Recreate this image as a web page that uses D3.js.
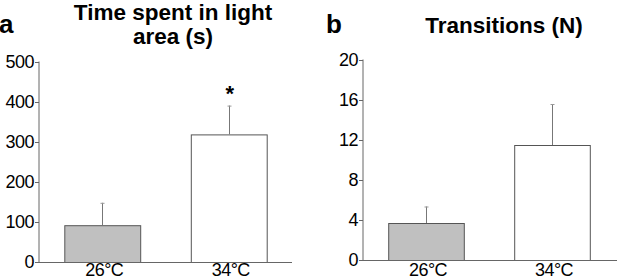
<!DOCTYPE html>
<html lang="en">
<head>
<meta charset="UTF-8">
<script src="https://cdn.jsdelivr.net/npm/d3@7"></script>
<style>
    body{margin:0;background:#fff;}
    svg text{font-family:"Liberation Sans",Arial,sans-serif;fill:#000;}
</style>
<title>Light/dark box</title>
</head>
<body>
<svg id="chart"></svg>
<script>
    // data
    var groups = ["26°C", "34°C"];
    var timeMean = [92, 319];
    var timeSem = [56, 72];
    var timeTicks = [0, 100, 200, 300, 400, 500];
    var transMean = [3.7, 11.5];
    var transSem = [1.65, 4.1];
    var transTicks = [0, 4, 8, 12, 16, 20];
    var barFill = ["#c0c0c0", "#ffffff"];

    var width = 617, height = 279;
    var svg = d3.select("#chart").attr("width", width).attr("height", height);

    // one panel
    function drawPanel(opt) {
        var g = svg.append("g");
        var x = d3.scaleBand().domain(groups)
            .range([opt.x0, opt.x1])
            .paddingInner(0.4).paddingOuter(0.2);
        var y = d3.scaleLinear().domain([0, opt.max]).range([opt.y0, opt.y1]);

        // y axis
        var ya = g.append("g").attr("transform", "translate(" + opt.x0 + ",0)")
            .call(d3.axisLeft(y).tickValues(opt.ticks).tickSize(4).tickPadding(1));
        ya.select(".domain").attr("stroke", "#666").attr("d", "M0," + (opt.y0 + 0.5) + "V" + (opt.y1 - 0.5));
        ya.selectAll(".tick line").attr("stroke", "#666");
        ya.selectAll(".tick text").attr("font-size", 18).attr("letter-spacing", -0.5)
            .attr("font-family", "Liberation Sans, Arial, sans-serif").attr("fill", "#000");

        // bars
        g.selectAll("rect.bar").data(opt.mean).enter().append("rect")
            .attr("x", function(d, i) { return x(groups[i]) + 0.5; })
            .attr("y", function(d) { return y(d) + 0.5; })
            .attr("width", x.bandwidth())
            .attr("height", function(d) { return y(0) - y(d); })
            .attr("fill", function(d, i) { return barFill[i]; })
            .attr("stroke", "#555");

        // error bars (upper only)
        opt.mean.forEach(function(m, i) {
            var cx = Math.round(x(groups[i]) + x.bandwidth() / 2) + 0.5;
            g.append("line").attr("x1", cx).attr("x2", cx)
                .attr("y1", y(m)).attr("y2", y(m + opt.sem[i]))
                .attr("stroke", "#777");
            g.append("line").attr("x1", cx - 2).attr("x2", cx + 2)
                .attr("y1", y(m + opt.sem[i]) + 0.5).attr("y2", y(m + opt.sem[i]) + 0.5)
                .attr("stroke", "#999");
        });

        // x axis
        g.append("line").attr("x1", opt.x0).attr("x2", opt.xEnd)
            .attr("y1", opt.y0 + 0.5).attr("y2", opt.y0 + 0.5)
            .attr("stroke", "#666");
        g.selectAll("text.xl").data(groups).enter().append("text")
            .attr("x", function(d) { return x(d) + x.bandwidth() / 2 + 2; })
            .attr("y", 276)
            .attr("text-anchor", "middle")
            .attr("font-size", 18).attr("letter-spacing", -0.5)
            .text(function(d) { return d; });

        // panel letter and title
        g.append("text").attr("x", opt.letterX).attr("y", 33)
            .attr("font-size", 26).attr("font-weight", "bold").text(opt.letter);
        opt.title.forEach(function(t, i) {
            g.append("text").attr("x", opt.titleX).attr("y", opt.titleY + i * 24)
                .attr("text-anchor", "middle").attr("font-size", 22.5).attr("font-weight", "bold")
                .text(t);
        });
        return {x: x, y: y, g: g};
    }

    var pa = drawPanel({
        x0: 39, x1: 292, xEnd: 292, y0: 262, y1: 62, max: 500,
        ticks: timeTicks, mean: timeMean, sem: timeSem,
        letter: "a", letterX: -1, title: ["Time spent in light", "area (s)"], titleX: 173, titleY: 20
    });
    var pb = drawPanel({
        x0: 363, x1: 615, xEnd: 617, y0: 260, y1: 60, max: 20,
        ticks: transTicks, mean: transMean, sem: transSem,
        letter: "b", letterX: 326, title: ["Transitions (N)"], titleX: 504, titleY: 33
    });

    // significance mark
    pa.g.append("text")
        .attr("x", pa.x(groups[1]) + pa.x.bandwidth() / 2 + 1)
        .attr("y", pa.y(timeMean[1] + timeSem[1]) - 5)
        .attr("text-anchor", "middle").attr("font-size", 22).attr("font-weight", "bold")
        .text("*");
</script>
</body>
</html>
